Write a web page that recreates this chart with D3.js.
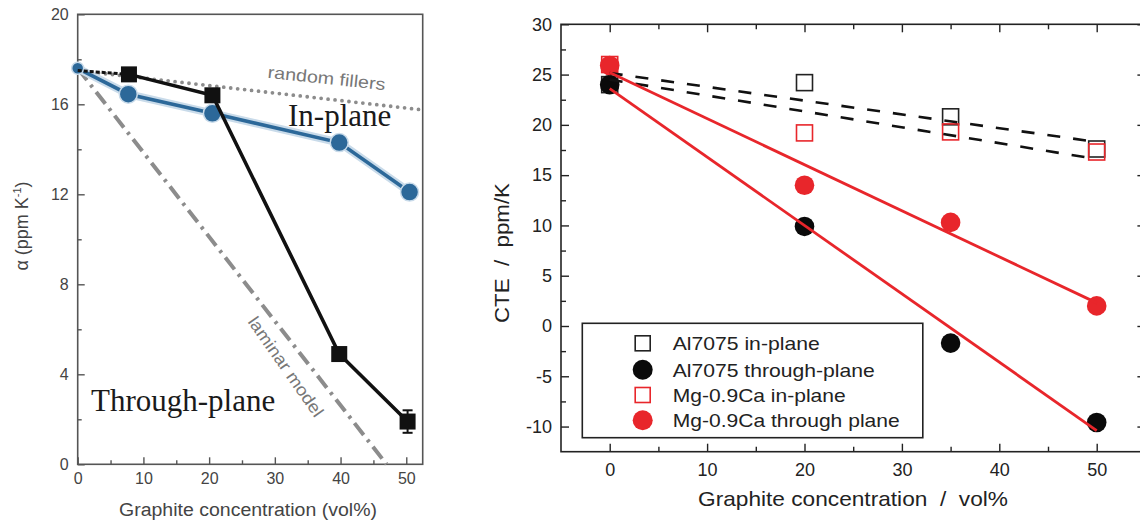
<!DOCTYPE html>
<html><head><meta charset="utf-8">
<script src="https://cdn.jsdelivr.net/npm/d3@7"></script>
<style>
html,body{margin:0;padding:0;background:#fff;}
svg{display:block;}
text{white-space:pre;}
</style></head>
<body>
<svg id="c" width="1140" height="524"></svg>
<script>
// ---------- Left panel data ----------
const leftXTicks = [0, 10, 20, 30, 40, 50];
const leftYTicks = [0, 4, 8, 12, 16, 20];
const inPlaneX = [0, 7.7, 20.5, 39.8, 50.5];
const inPlaneY = [17.6, 16.45, 15.6, 14.3, 12.1];
const throughX = [0, 7.8, 20.5, 39.8, 50.2];
const throughY = [17.5, 17.33, 16.4, 4.9, 1.9];
const throughErr = [0, 0, 0, 0, 0.5];
const randomX = [0, 52.5];
const randomY = [17.5, 15.75];
const laminarX = [0, 47];
const laminarY = [17.6, 0];

// ---------- Right panel data ----------
const rightXTicks = [0, 10, 20, 30, 40, 50];
const rightYTicks = [-10, -5, 0, 5, 10, 15, 20, 25, 30];
const conc = [0, 20, 35, 50];
const alIn = [24.0, 24.2, 20.8, 17.6];
const alThrough = [24.0, 9.9, -1.7, -9.6];
const mgIn = [26.0, 19.2, 19.3, 17.3];
const mgThrough = [25.9, 14.0, 10.3, 2.0];
const fitX = [0, 50];
const fitAlIn = [25.15, 18.3];
const fitMgIn = [24.5, 16.6];
const fitAlThrough = [23.6, -10.4];
const fitMgThrough = [25.2, 2.3];
const legendLabels = ["Al7075 in-plane", "Al7075 through-plane", "Mg-0.9Ca in-plane", "Mg-0.9Ca through plane"];

const svg = d3.select("#c");
const RED = "#e8262b";
const plainFmt = d => String(d);

// ================= LEFT PANEL =================
const xL = d3.scaleLinear().domain([0, 52.5]).range([77.7, 422.7]);
const yL = d3.scaleLinear().domain([0, 20]).range([464.3, 14.3]);
const gL = svg.append("g");
const LFONT = "'Liberation Sans', Arial, sans-serif";
const LCOL = "#444";

const axL = gL.append("g").attr("transform", `translate(0,${yL(0)})`)
  .call(d3.axisBottom(xL).tickValues(leftXTicks).tickSize(-7).tickPadding(8).tickFormat(plainFmt));
const axLm = gL.append("g").attr("transform", `translate(0,${yL(0)})`)
  .call(d3.axisBottom(xL).tickValues([5,15,25,35,45]).tickSize(-4).tickFormat(""));
const ayL = gL.append("g").attr("transform", `translate(${xL(0)},0)`)
  .call(d3.axisLeft(yL).tickValues(leftYTicks).tickSize(-7).tickPadding(9).tickFormat(plainFmt));
const ayLm = gL.append("g").attr("transform", `translate(${xL(0)},0)`)
  .call(d3.axisLeft(yL).tickValues([2,6,10,14,18]).tickSize(-4).tickFormat(""));
[axL, axLm, ayL, ayLm].forEach(a => {
  a.select(".domain").remove();
  a.selectAll("line").attr("stroke", "#555").attr("stroke-width", 1.4);
  a.selectAll("text").attr("fill", LCOL).style("font-family", LFONT).style("font-size", "16px");
});
gL.append("rect").attr("x", xL(0)).attr("y", yL(20)).attr("width", xL(52.5) - xL(0)).attr("height", yL(0) - yL(20))
  .attr("fill", "none").attr("stroke", "#555").attr("stroke-width", 1.6);

const lineL = d3.line().x(d => xL(d[0])).y(d => yL(d[1]));
// random fillers (dotted)
gL.append("path").attr("d", lineL(d3.zip(randomX, randomY))).attr("fill", "none")
  .attr("stroke", "#8c8c8c").attr("stroke-width", 3.8).attr("stroke-linecap", "round").attr("stroke-dasharray", "0,7");
// laminar model (dash-dot)
gL.append("path").attr("d", lineL(d3.zip(laminarX, laminarY))).attr("fill", "none")
  .attr("stroke", "#8c8c8c").attr("stroke-width", 4).attr("stroke-dasharray", "15,6,3,6");

// in-plane blue
const inPts = d3.zip(inPlaneX, inPlaneY);
gL.append("path").attr("d", lineL(inPts)).attr("fill", "none").attr("stroke", "#c9dbea").attr("stroke-width", 8);
gL.append("path").attr("d", lineL(inPts)).attr("fill", "none").attr("stroke", "#2c6899").attr("stroke-width", 3.6);
gL.selectAll("circle.ip").data(inPts).join("circle").attr("class", "ip")
  .attr("cx", d => xL(d[0])).attr("cy", d => yL(d[1])).attr("r", (d, i) => i === 0 ? 6 : 9)
  .attr("fill", "#2c6899").attr("stroke", "#c9dbea").attr("stroke-width", 1.5);

// through-plane black
const thPts = d3.zip(throughX, throughY, throughErr);
gL.append("path").attr("d", lineL(thPts.slice(0, 2))).attr("fill", "none").attr("stroke", "#111").attr("stroke-width", 3).attr("stroke-dasharray", "4,2");
gL.append("path").attr("d", lineL(thPts.slice(1))).attr("fill", "none").attr("stroke", "#111").attr("stroke-width", 3.6);
thPts.filter(d => d[2] > 0).forEach(d => {
  const x = xL(d[0]);
  gL.append("line").attr("x1", x).attr("x2", x).attr("y1", yL(d[1] + d[2])).attr("y2", yL(d[1] - d[2])).attr("stroke", "#111").attr("stroke-width", 2);
  [d[1] + d[2], d[1] - d[2]].forEach(v => gL.append("line").attr("x1", x - 5).attr("x2", x + 5).attr("y1", yL(v)).attr("y2", yL(v)).attr("stroke", "#111").attr("stroke-width", 2));
});
gL.selectAll("rect.tp").data(thPts.slice(1)).join("rect").attr("class", "tp")
  .attr("x", d => xL(d[0]) - 8).attr("y", d => yL(d[1]) - 8).attr("width", 16).attr("height", 16).attr("fill", "#111");

// left labels
gL.append("text").attr("x", 248).attr("y", 516).attr("text-anchor", "middle")
  .attr("textLength", 258).attr("lengthAdjust", "spacingAndGlyphs")
  .style("font-family", LFONT).style("font-size", "18px").attr("fill", LCOL).text("Graphite concentration (vol%)");
const yl = gL.append("text").attr("transform", "translate(28,226) rotate(-90)").attr("text-anchor", "middle")
  .style("font-family", LFONT).style("font-size", "18px").attr("fill", LCOL);
yl.append("tspan").text("α (ppm K");
yl.append("tspan").attr("dy", -7).style("font-size", "11px").text("-1");
yl.append("tspan").attr("dy", 7).text(")");
gL.append("text").attr("transform", "translate(326,84) rotate(6)").attr("text-anchor", "middle")
  .attr("textLength", 118).attr("lengthAdjust", "spacingAndGlyphs")
  .style("font-family", LFONT).style("font-size", "17px").attr("fill", "#777").text("random fillers");
gL.append("text").attr("transform", "translate(281,370) rotate(55)").attr("text-anchor", "middle")
  .attr("textLength", 118).attr("lengthAdjust", "spacingAndGlyphs")
  .style("font-family", LFONT).style("font-size", "17px").attr("fill", "#777").text("laminar model");
gL.append("text").attr("x", 288).attr("y", 126).style("font-family", "'Liberation Serif', 'Times New Roman', serif")
  .style("font-size", "31px").attr("fill", "#1a1a1a").text("In-plane");
gL.append("text").attr("x", 91).attr("y", 411).style("font-family", "'Liberation Serif', 'Times New Roman', serif")
  .style("font-size", "31px").attr("fill", "#1a1a1a").text("Through-plane");

// ================= RIGHT PANEL =================
const xR = d3.scaleLinear().domain([-5, 55]).range([561, 1145.4]);
const yR = d3.scaleLinear().domain([-12.5, 30]).range([451.7, 24.3]);
const gR = svg.append("g");
const RFONT = "'Liberation Sans', Arial, sans-serif";
const RCOL = "#222";

function styleAxis(a) {
  a.select(".domain").remove();
  a.selectAll("line").attr("stroke", RCOL).attr("stroke-width", 1.4);
  a.selectAll("text").attr("fill", RCOL).style("font-family", RFONT).style("font-size", "18px");
}
const minorX = [5, 15, 25, 35, 45];
const minorY = [-7.5, -2.5, 2.5, 7.5, 12.5, 17.5, 22.5, 27.5];
styleAxis(gR.append("g").attr("transform", `translate(0,${yR(-12.5)})`)
  .call(d3.axisBottom(xR).tickValues(rightXTicks).tickSize(-8).tickPadding(12).tickFormat(plainFmt)));
styleAxis(gR.append("g").attr("transform", `translate(0,${yR(-12.5)})`)
  .call(d3.axisBottom(xR).tickValues(minorX).tickSize(-5).tickFormat("")));
styleAxis(gR.append("g").attr("transform", `translate(0,${yR(30)})`)
  .call(d3.axisTop(xR).tickValues(rightXTicks).tickSize(-8).tickFormat("")));
styleAxis(gR.append("g").attr("transform", `translate(0,${yR(30)})`)
  .call(d3.axisTop(xR).tickValues(minorX).tickSize(-5).tickFormat("")));
styleAxis(gR.append("g").attr("transform", `translate(${xR(-5)},0)`)
  .call(d3.axisLeft(yR).tickValues(rightYTicks).tickSize(-8).tickPadding(9).tickFormat(plainFmt)));
styleAxis(gR.append("g").attr("transform", `translate(${xR(-5)},0)`)
  .call(d3.axisLeft(yR).tickValues(minorY).tickSize(-5).tickFormat("")));
styleAxis(gR.append("g").attr("transform", `translate(${xR(55)},0)`)
  .call(d3.axisRight(yR).tickValues(rightYTicks).tickSize(-8).tickFormat("")));
styleAxis(gR.append("g").attr("transform", `translate(${xR(55)},0)`)
  .call(d3.axisRight(yR).tickValues(minorY).tickSize(-5).tickFormat("")));
gR.append("rect").attr("x", xR(-5)).attr("y", yR(30)).attr("width", xR(55) - xR(-5)).attr("height", yR(-12.5) - yR(30))
  .attr("fill", "none").attr("stroke", RCOL).attr("stroke-width", 1.6);

// markers
const SQ = 16, R = 9.8;
const sq = (sel, data, col, cls) => sel.selectAll("rect." + cls).data(data).join("rect").attr("class", cls)
  .attr("x", d => xR(d[0]) - SQ / 2).attr("y", d => yR(d[1]) - SQ / 2).attr("width", SQ).attr("height", SQ)
  .attr("fill", "none").attr("stroke", col).attr("stroke-width", 1.6);
const ci = (sel, data, col, cls) => sel.selectAll("circle." + cls).data(data).join("circle").attr("class", cls)
  .attr("cx", d => xR(d[0])).attr("cy", d => yR(d[1])).attr("r", R).attr("fill", col);
sq(gR, d3.zip(conc, alIn), "#222", "ai");
ci(gR, d3.zip(conc, alThrough), "#0a0a0a", "at");
sq(gR, d3.zip(conc, mgIn), RED, "mi");
ci(gR, d3.zip(conc, mgThrough), RED, "mt");

// fit lines
const lineR = d3.line().x(d => xR(d[0])).y(d => yR(d[1]));
[fitAlIn, fitMgIn].forEach(f => gR.append("path").attr("d", lineR(d3.zip(fitX, f))).attr("fill", "none")
  .attr("stroke", "#111").attr("stroke-width", 2.6).attr("stroke-dasharray", "13,13"));
[fitAlThrough, fitMgThrough].forEach(f => gR.append("path").attr("d", lineR(d3.zip(fitX, f))).attr("fill", "none")
  .attr("stroke", RED).attr("stroke-width", 2.8));

// axis titles
gR.append("text").attr("transform", "translate(509,253) rotate(-90)").attr("text-anchor", "middle")
  .attr("textLength", 140).attr("lengthAdjust", "spacingAndGlyphs")
  .style("font-family", RFONT).style("font-size", "21px").attr("fill", RCOL).text("CTE  /  ppm/K");
gR.append("text").attr("x", 853).attr("y", 506).attr("text-anchor", "middle")
  .attr("textLength", 310).attr("lengthAdjust", "spacingAndGlyphs")
  .style("font-family", RFONT).style("font-size", "21px").attr("fill", RCOL).text("Graphite concentration  /  vol%");

// legend
const lg = gR.append("g");
lg.append("rect").attr("x", 582.3).attr("y", 323.3).attr("width", 340.5).attr("height", 114.4)
  .attr("fill", "#fff").attr("stroke", RCOL).attr("stroke-width", 1.6);
const rowsY = [343.3, 369.7, 395, 420.3];
const legLen = [147, 202, 173, 227];
const legKinds = [["sq", "#222"], ["ci", "#0a0a0a"], ["sq", RED], ["ci", RED]];
legendLabels.forEach((t, i) => {
  const y = rowsY[i], [k, col] = legKinds[i];
  if (k === "sq") lg.append("rect").attr("x", 642.7 - 7.5).attr("y", y - 7.5).attr("width", 15).attr("height", 15)
    .attr("fill", "none").attr("stroke", col).attr("stroke-width", 1.6);
  else lg.append("circle").attr("cx", 642.7).attr("cy", y).attr("r", 10).attr("fill", col);
  lg.append("text").attr("x", 672.7).attr("y", y + 7).attr("textLength", legLen[i]).attr("lengthAdjust", "spacingAndGlyphs")
    .style("font-family", RFONT).style("font-size", "19px").attr("fill", RCOL).text(t);
});
</script>
</body></html>
